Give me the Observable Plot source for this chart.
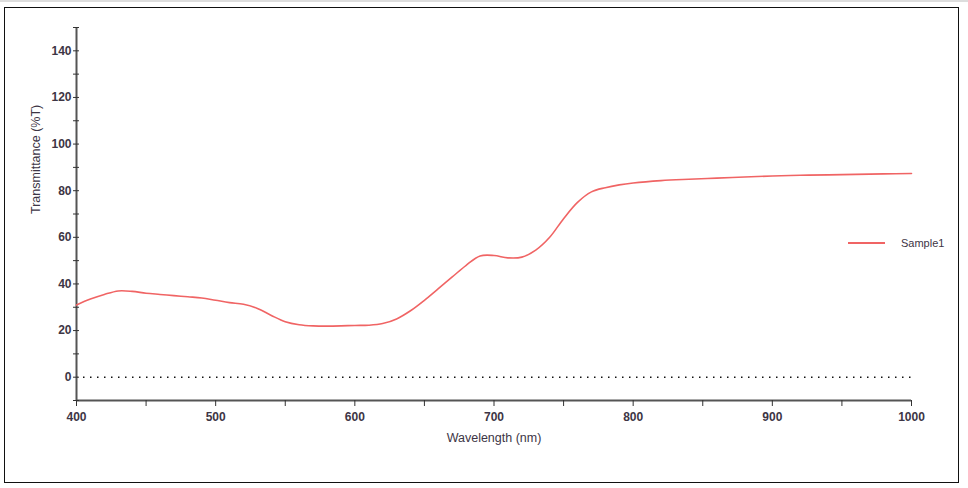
<!DOCTYPE html>
<html><head><meta charset="utf-8">
<script src="https://cdn.jsdelivr.net/npm/d3@7"></script>
<script src="https://cdn.jsdelivr.net/npm/@observablehq/plot@0.6"></script>
<style>
body{margin:0;background:#fff;font-family:"Liberation Sans",Arial,sans-serif;}
#wrap{position:relative;width:968px;height:488px;overflow:hidden;}
#frame{position:absolute;left:4px;top:7px;width:955px;height:476px;border:1.5px solid #111;box-sizing:border-box;pointer-events:none;}
#topline{position:absolute;left:0;top:0;width:968px;height:2px;background:#ddd;}
#legend{position:absolute;left:848px;top:235px;height:16px;display:flex;align-items:center;font-size:11px;color:#3d3545;}
#legend .sw{width:37px;height:2px;background:#f06464;margin-right:16px;}
</style></head>
<body>
<div id="wrap"><div id="chart"></div><div id="topline"></div><div id="frame"></div>
<div id="legend"><div class="sw"></div><span id="legtxt"></span></div></div>
<script>
const seriesName = "Sample1";
const xTitle = "Wavelength (nm)";
const yTitle = "Transmittance (%T)";
const wavelength = [400,410,420,430,440,450,460,470,480,490,500,510,520,530,540,550,560,570,580,590,600,610,620,630,640,650,660,670,680,690,700,710,720,730,740,750,760,770,780,790,800,820,840,860,880,900,920,940,960,980,1000];
const transmittance = [31,33.5,35.5,37,36.8,36,35.5,35,34.5,34,33,32,31.3,29.5,26.5,23.8,22.5,22,21.9,22,22.2,22.3,23,25,28.5,33,38,43,48,52,52.2,51.2,51.5,54.5,60,68,75,79.5,81.3,82.5,83.3,84.3,84.9,85.4,85.9,86.3,86.6,86.8,87,87.2,87.4];
const xTicks = [400,450,500,550,600,650,700,750,800,850,900,950,1000];
const xLabeled = [400,500,600,700,800,900,1000];
const yTicks = [-10,0,10,20,30,40,50,60,70,80,90,100,110,120,130,140,150];
const yLabeled = [0,20,40,60,80,100,120,140];
const xDomain = [400,1000];
const yDomain = [-10,150];
const zeroLine = [0];

document.getElementById("legtxt").textContent = seriesName;
const data = wavelength.map((w,i)=>({w, t: transmittance[i]}));
const txt = "#3d3545";

const chart = Plot.plot({
  width: 968, height: 488,
  marginLeft: 76, marginRight: 57, marginTop: 27, marginBottom: 88,
  style: {fontFamily: '"Liberation Sans", Arial, sans-serif', fontSize: "12px", color: txt, background: "transparent"},
  x: {domain: xDomain},
  y: {domain: yDomain},
  marks: [
    Plot.ruleY(zeroLine, {stroke: "#111", strokeWidth: 1.5, strokeDasharray: "1.5,5.5"}),
    Plot.ruleX([xDomain[0]], {stroke: "#555", strokeWidth: 2}),
    Plot.ruleY([yDomain[0]], {stroke: "#555", strokeWidth: 2}),
    Plot.axisY({ticks: yTicks, tickSize: 6, insetLeft: 3, tickPadding: 2, stroke: "#333",
      tickFormat: d => yLabeled.includes(d) ? String(d) : "", fill: txt, fontWeight: "bold", fontSize: 12, label: null}),
    Plot.axisX({ticks: xTicks, tickSize: 6, insetTop: 3, tickPadding: 6, stroke: "#333",
      tickFormat: d => xLabeled.includes(d) ? String(d) : "", fill: txt, fontWeight: "bold", fontSize: 12, label: null}),
    Plot.text([yTitle], {frameAnchor: "left", rotate: -90, dx: -41, text: d => d, fill: txt, fontSize: 12.5}),
    Plot.text([xTitle], {frameAnchor: "bottom", dy: 41, text: d => d, fill: txt, fontSize: 12.5}),
    Plot.line(data, {x: "w", y: "t", stroke: "#f06464", strokeWidth: 1.6, curve: "catmull-rom"})
  ]
});
document.getElementById("chart").appendChild(chart);
</script>
</body></html>
